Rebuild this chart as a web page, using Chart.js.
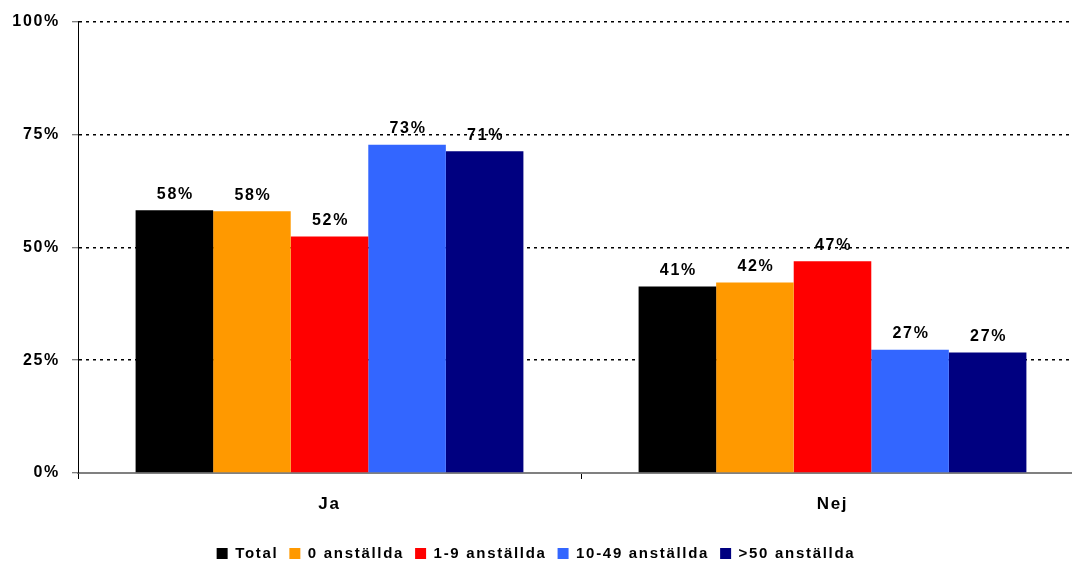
<!DOCTYPE html>
<html>
<head>
<meta charset="utf-8">
<script src="https://cdn.jsdelivr.net/npm/chart.js@4/dist/chart.umd.min.js"></script>
<style>
    html, body { margin: 0; padding: 0; background: #fff; overflow: hidden; }
    #wrap { width: 1086px; height: 562px; position: relative; }
</style>
</head>
<body>
<div id="wrap"><canvas id="myChart"></canvas></div>
<script>
//categories and series (percent)
const categories = ['Ja', 'Nej'];
const total = [58.2, 41.3];
const anst0 = [58.0, 42.2];
const anst1_9 = [52.4, 46.9];
const anst10_49 = [72.7, 27.3];
const anst50 = [71.3, 26.7];
const yTicks = [0, 25, 50, 75, 100];

//colors
const black = '#000000';
const orange = '#FF9900';
const red = '#FF0000';
const blue = '#3366FF';
const navy = '#000080';

const fontFamily = '"Liberation Sans", Arial, sans-serif';
const spacing = '1.7px';

//letter spacing for all canvas text (canvas state gets reset on resize)
const spacingPlugin = {
    id: 'spacing',
    beforeLayout(chart){ chart.ctx.letterSpacing = spacing; },
    afterLayout(chart){
        //nudge the legend a bit to the left
        chart.legend.left -= 6;
        chart.legend.right -= 6;
    },
    beforeDraw(chart){ chart.ctx.letterSpacing = spacing; }
};

//percent labels above bars
const valueLabels = {
    id: 'valueLabels',
    afterDatasetsDraw(chart){
        const ctx = chart.ctx;
        ctx.save();
        ctx.letterSpacing = spacing;
        ctx.font = 'bold 16px ' + fontFamily;
        ctx.fillStyle = '#000';
        ctx.textAlign = 'center';
        ctx.textBaseline = 'middle';
        chart.data.datasets.forEach((ds, i) => {
            chart.getDatasetMeta(i).data.forEach((bar, j) => {
                ctx.fillText(Math.round(ds.data[j]) + '%', bar.x + 1, bar.y - 16);
            });
        });
        ctx.restore();
    }
};

const data = {
    labels: categories,
    datasets: [
        { label: 'Total', data: total, backgroundColor: black },
        { label: '0 anställda', data: anst0, backgroundColor: orange },
        { label: '1-9 anställda', data: anst1_9, backgroundColor: red },
        { label: '10-49 anställda', data: anst10_49, backgroundColor: blue },
        { label: '>50 anställda', data: anst50, backgroundColor: navy }
    ]
};

const config = {
    type: 'bar',
    data: data,
    plugins: [spacingPlugin, valueLabels],
    options: {
        responsive: true,
        maintainAspectRatio: false,
        animation: false,
        layout: { padding: { top: 15, right: 2, left: 0, bottom: -9 } },
        datasets: {
            bar: { categoryPercentage: 0.771, barPercentage: 1.0, borderWidth: 0 }
        },
        plugins: {
            tooltip: { enabled: false },
            legend: {
                position: 'bottom',
                labels: {
                    color: '#000',
                    font: { family: fontFamily, size: 15, weight: 'bold' },
                    boxWidth: 11,
                    boxHeight: 11,
                    padding: 11
                }
            }
        },
        scales: {
            x: {
                grid: {
                    drawOnChartArea: false,
                    drawTicks: true,
                    tickLength: 6,
                    tickColor: '#000',
                    offset: true
                },
                border: { color: '#808080', width: 2 },
                ticks: {
                    color: '#000',
                    font: { family: fontFamily, size: 17, weight: 'bold' },
                    padding: 15
                },
                afterFit(scale){ scale.height = 62; }
            },
            y: {
                min: 0,
                max: 100,
                afterBuildTicks(scale){ scale.ticks = yTicks.map(v => ({ value: v })); },
                grid: {
                    color: c => c.tick && c.tick.value === 0 ? 'rgba(0,0,0,0)' : '#000',
                    lineWidth: 1.5,
                    tickColor: '#555',
                    tickLength: 6,
                    tickWidth: 1
                },
                border: { color: '#000', width: 1, dash: [3, 4] },
                ticks: {
                    color: '#000',
                    font: { family: fontFamily, size: 16, weight: 'bold' },
                    padding: 12,
                    callback: v => v + '%'
                },
                afterFit(scale){ scale.width = 78; }
            }
        }
    }
};

const ctx = document.getElementById('myChart').getContext('2d');
const myChart = new Chart(ctx, config);
</script>
</body>
</html>
